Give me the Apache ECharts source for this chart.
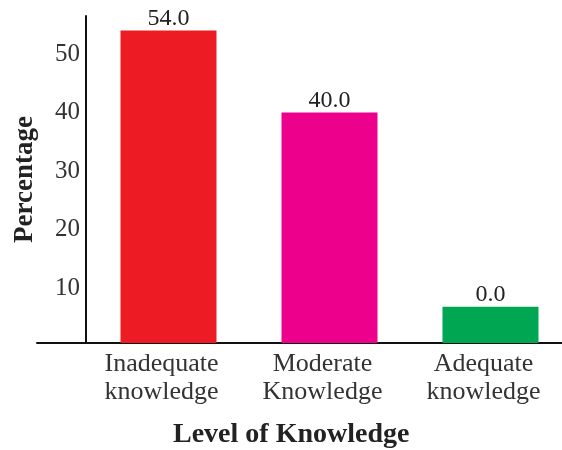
<!DOCTYPE html>
<html>
<head>
<meta charset="utf-8">
<script src="https://cdn.jsdelivr.net/npm/echarts@6/dist/echarts.min.js"></script>
<style>
html,body{margin:0;padding:0;background:#fff;}
#chart{width:562px;height:450px;}
</style>
</head>
<body>
<div id="chart"></div>
<script>
var categories = ['Inadequate\nknowledge', 'Moderate\nKnowledge', 'Adequate\nknowledge'];
var values = [54, 40, 6.8];
var valueLabels = ['54.0', '40.0', '0.0'];
var barColors = ['#ED1C24', '#EC008C', '#00A651'];
var yTicks = [10, 20, 30, 40, 50];
var yName = 'Percentage';
var xName = 'Level of Knowledge';

var FONT = '"Liberation Serif", "Times New Roman", serif';
var chart = echarts.init(document.getElementById('chart'));
chart.setOption({
  animation: false,
  backgroundColor: '#fff',
  title: {
    text: xName,
    left: 173,
    top: 421,
    padding: 0,
    textStyle: {fontFamily: FONT, fontSize: 28, fontWeight: 'bold', color: '#222'}
  },
  grid: [
    {left: 88, width: 483, top: 16, bottom: 107, outerBoundsMode: 'none', containLabel: false},
    {left: 37, right: 0, top: 16, bottom: 107, outerBoundsMode: 'none', containLabel: false}
  ],
  xAxis: [
    {
      type: 'category', gridIndex: 0, data: categories,
      axisLine: {show: false}, axisTick: {show: false},
      axisLabel: {fontFamily: FONT, fontSize: 26, lineHeight: 28, color: '#333', margin: 7, padding: [0, 14, 0, 0]}
    },
    {
      type: 'value', gridIndex: 1, min: 0, max: 1,
      axisLine: {show: true, onZero: false, lineStyle: {color: '#111', width: 2}},
      axisTick: {show: false}, axisLabel: {show: false}, splitLine: {show: false}
    }
  ],
  yAxis: [
    {
      type: 'value', gridIndex: 0, min: 0.6, max: 56.5, offset: 2,
      name: yName, nameLocation: 'middle', nameRotate: 90, nameGap: 47,
      nameTextStyle: {fontFamily: FONT, fontSize: 27, fontWeight: 'bold', color: '#222'},
      axisLine: {show: true, lineStyle: {color: '#111', width: 2}},
      axisTick: {show: false},
      splitLine: {show: false},
      axisLabel: {customValues: yTicks, fontFamily: FONT, fontSize: 25, color: '#333', margin: 6}
    },
    {
      type: 'value', gridIndex: 1, min: 0, max: 1, show: false
    }
  ],
  series: [{
    type: 'bar',
    xAxisIndex: 0, yAxisIndex: 0,
    data: values.map(function (v, i) { return {value: v, itemStyle: {color: barColors[i]}}; }),
    barWidth: 96,
    label: {
      show: true, position: 'top', distance: 0,
      fontFamily: FONT, fontSize: 24, color: '#222',
      formatter: function (p) { return valueLabels[p.dataIndex]; }
    }
  }]
});
</script>
</body>
</html>
